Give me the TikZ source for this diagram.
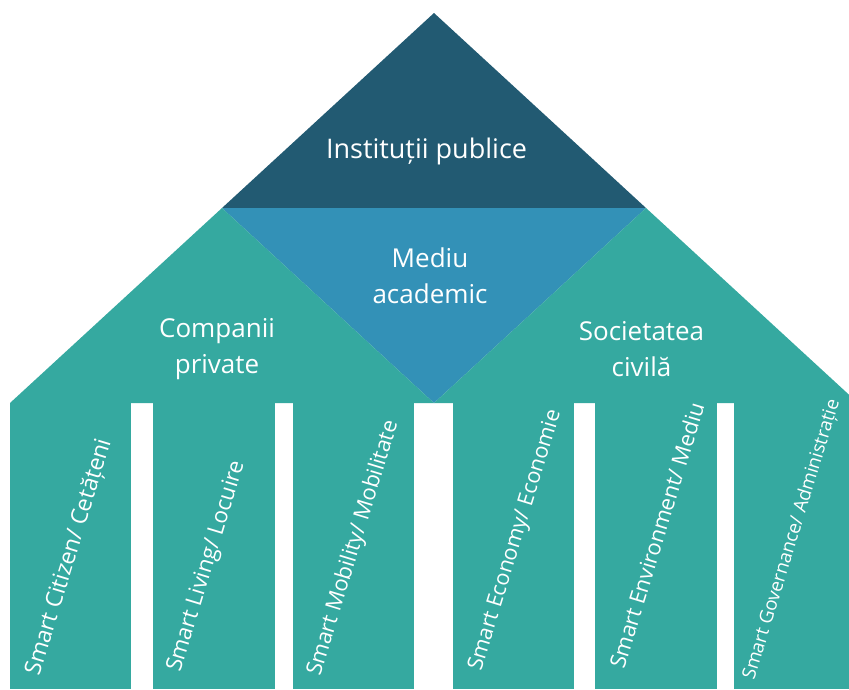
\documentclass[tikz,border=0pt]{standalone}
\usepackage{fontspec}
\setmainfont{Open Sans}
\usepackage{xcolor}
\usetikzlibrary{positioning}
\definecolor{roofdark}{RGB}{34,90,114}
\definecolor{roofmid}{RGB}{51,145,183}
\definecolor{roofteal}{RGB}{53,169,160}

\begin{document}
\begin{tikzpicture}[x=1pt, y=-1pt,
    rooftext/.style={text=white, align=center, font=\fontsize{26}{36}\selectfont},
    pillartext/.style={text=white, rotate=73, anchor=base west, inner sep=0pt}]
        \clip (0,0) rectangle (849,689);

        % Roof
        \fill[roofdark] (434,13) -- (646,208) -- (222,208) -- cycle;
        \fill[roofmid] (222,208) -- (646,208) -- (434,403) -- cycle;
        \fill[roofteal] (222,208) -- (434,403) -- (10,403) -- cycle;
        \fill[roofteal] (646,208) -- (858,403) -- (434,403) -- cycle;

        \node[rooftext, anchor=base, font=\fontsize{27}{36}\selectfont] (inst) at (426.5,158) {Instituții publice};
        \node[rooftext] (mediu) at (430,276) {Mediu\\academic};
        \node[rooftext] (comp) at (217,349) {Companii\\private};
        \node[rooftext] (soc) at (641.5,349) {Societatea\\civilă};

        % Pillars
        \foreach \i/\a/\b in {1/10/131, 2/153/275, 3/293/414, 4/453/574, 5/595/717, 6/734/860} {
          \fill[roofteal] (\a,403) rectangle (\b,689);
        }

        \foreach \i/\x/\y/\s/\txt in {1/39/677/23/{Smart Citizen/ Cetățeni}, 2/180/673/22.4/{Smart Living/ Locuire},
            3/320/677/21.9/{Smart Mobility/ Mobilitate}, 4/481/672/21.6/{Smart Economy/ Economie},
            5/624/670/21.9/{Smart Environment/ Mediu}, 6/754/681/18.8/{Smart Governance/ Administrație}} {
          \node[pillartext, font=\fontsize{\s}{\s}\selectfont] (pillar\i) at (\x,\y) {\txt};
        }
      \end{tikzpicture}
\end{document}
